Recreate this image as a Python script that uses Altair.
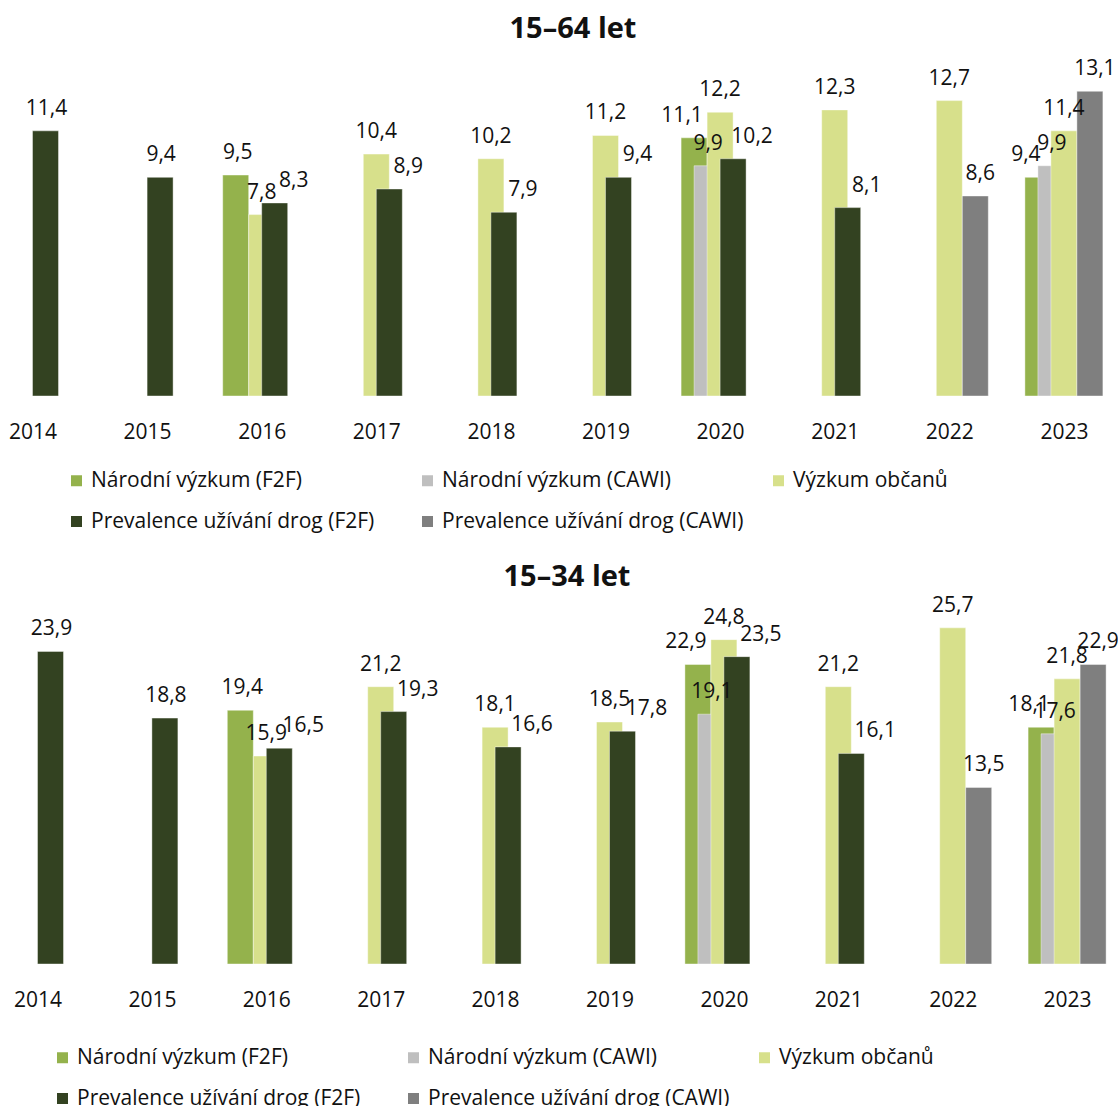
import altair as alt
import pandas as pd

years = list(range(2014, 2024))

series_names = [
    "Národní výzkum (F2F)",
    "Národní výzkum (CAWI)",
    "Výzkum občanů",
    "Prevalence užívání drog (F2F)",
    "Prevalence užívání drog (CAWI)",
]
series_colors = ["#94b24c", "#bfbfbf", "#d7e08b", "#334221", "#7f7f7f"]

# 15–64 let, one value per year (None = no survey that year)
adult_narodni_f2f = [None, None, 9.5, None, None, None, 11.1, None, None, 9.4]
adult_narodni_cawi = [None, None, None, None, None, None, 9.9, None, None, 9.9]
adult_obcane = [None, None, 7.8, 10.4, 10.2, 11.2, 12.2, 12.3, 12.7, 11.4]
adult_prev_f2f = [11.4, 9.4, 8.3, 8.9, 7.9, 9.4, 10.2, 8.1, None, None]
adult_prev_cawi = [None, None, None, None, None, None, None, None, 8.6, 13.1]

# 15–34 let
young_narodni_f2f = [None, None, 19.4, None, None, None, 22.9, None, None, 18.1]
young_narodni_cawi = [None, None, None, None, None, None, 19.1, None, None, 17.6]
young_obcane = [None, None, 15.9, 21.2, 18.1, 18.5, 24.8, 21.2, 25.7, 21.8]
young_prev_f2f = [23.9, 18.8, 16.5, 19.3, 16.6, 17.8, 23.5, 16.1, None, None]
young_prev_cawi = [None, None, None, None, None, None, None, None, 13.5, 22.9]

FONT = "Open Sans"
INK = "#111111"
BAR_W = 26
STEP = BAR_W / 2  # bars of neighbouring series overlap by half


def long_table(columns):
    rows = []
    obcane = dict(zip(years, columns[2]))
    cawi = dict(zip(years, columns[1]))
    for name, values in zip(series_names, columns):
        for year, v in zip(years, values):
            if v is None:
                continue
            rows.append({
                "year": year,
                "series": name,
                "value": v,
                "label": f"{v:.1f}".replace(".", ","),
                "crowded": obcane[year] is not None,
                "with_cawi": cawi[year] is not None,
            })
    return pd.DataFrame(rows)


def panel(df, title, title_dx, title_offset, x_domain, y_max, height,
          legend_x, legend_y, dark_nudge):
    base = alt.Chart(df)
    x = alt.X(
        "year:Q",
        scale=alt.Scale(domain=x_domain, nice=False, zero=False, padding=0),
        axis=alt.Axis(
            values=years, format="d", title=None, domain=False, ticks=False,
            tickSize=0, grid=False, labelFontSize=21, labelFont=FONT,
            labelColor=INK, labelPadding=25, labelFlush=False,
        ),
    )
    y = alt.Y("value:Q", scale=alt.Scale(domain=[0, y_max], nice=False), axis=None)
    color = alt.Color(
        "series:N",
        scale=alt.Scale(domain=series_names, range=series_colors),
        legend=alt.Legend(
            title=None, orient="none", legendX=legend_x, legendY=legend_y,
            direction="horizontal", columns=3, gridAlign="all",
            columnPadding=24, rowPadding=19,
            symbolType="square", symbolSize=121, symbolStrokeWidth=0,
            labelFontSize=21, labelFont=FONT, labelColor=INK, labelOffset=4,
            labelLimit=500, padding=0,
        ),
    )

    bars = []
    for i, name in enumerate(series_names):
        bars.append(
            base.transform_filter(alt.datum.series == name)
            .mark_bar(width=BAR_W, xOffset=(i - 2) * STEP, stroke="white",
                      strokeWidth=0.6, strokeOpacity=0.7)
            .encode(x=x, y=y, color=color)
        )

    def labels(cond, offset, nudge, clip=False):
        return (
            base.transform_filter(cond)
            .mark_text(font=FONT, fontSize=21, color=INK, baseline="alphabetic",
                       align="center", dy=-16, xOffset=offset, dx=nudge, clip=clip)
            .encode(x=x, y=y, text="label:N")
        )

    s = alt.datum.series
    texts = [
        labels((s == series_names[0]) & alt.datum.with_cawi, -2 * STEP, -12),
        labels((s == series_names[0]) & ~alt.datum.with_cawi, -2 * STEP, 2),
        labels(s == series_names[1], -STEP, 1),
        labels(s == series_names[2], 0, 0),
        labels((s == series_names[3]) & alt.datum.crowded, STEP, dark_nudge),
        labels((s == series_names[3]) & ~alt.datum.crowded, STEP, 1),
        labels(s == series_names[4], 2 * STEP, 5, clip=True),
    ]

    return alt.layer(*bars, *texts).properties(
        width=1118,
        height=height,
        title=alt.TitleParams(
            title, fontSize=29, font=FONT, fontWeight="bold", color=INK,
            anchor="middle", dx=title_dx, offset=title_offset,
        ),
    )


adult = long_table([adult_narodni_f2f, adult_narodni_cawi, adult_obcane,
                    adult_prev_f2f, adult_prev_cawi])
young = long_table([young_narodni_f2f, young_narodni_cawi, young_obcane,
                    young_prev_f2f, young_prev_cawi])

top = panel(adult, "15–64 let", 14, 8, [2013.7164, 2023.4721], 14.79, 344,
            66, 418, 19)
bottom = panel(young, "15–34 let", 8, 3, [2013.6722, 2023.4449], 27.83, 364,
               52, 447, 24)

chart = (
    alt.vconcat(top, bottom, spacing=30)
    .resolve_scale(x="independent", y="independent")
    .resolve_legend(color="independent")
    .properties(padding={"left": 0, "right": 0, "top": 15, "bottom": 0})
    .configure_view(stroke=None)
)

chart.save("out.html", embed_options={"renderer": "svg", "actions": False})
